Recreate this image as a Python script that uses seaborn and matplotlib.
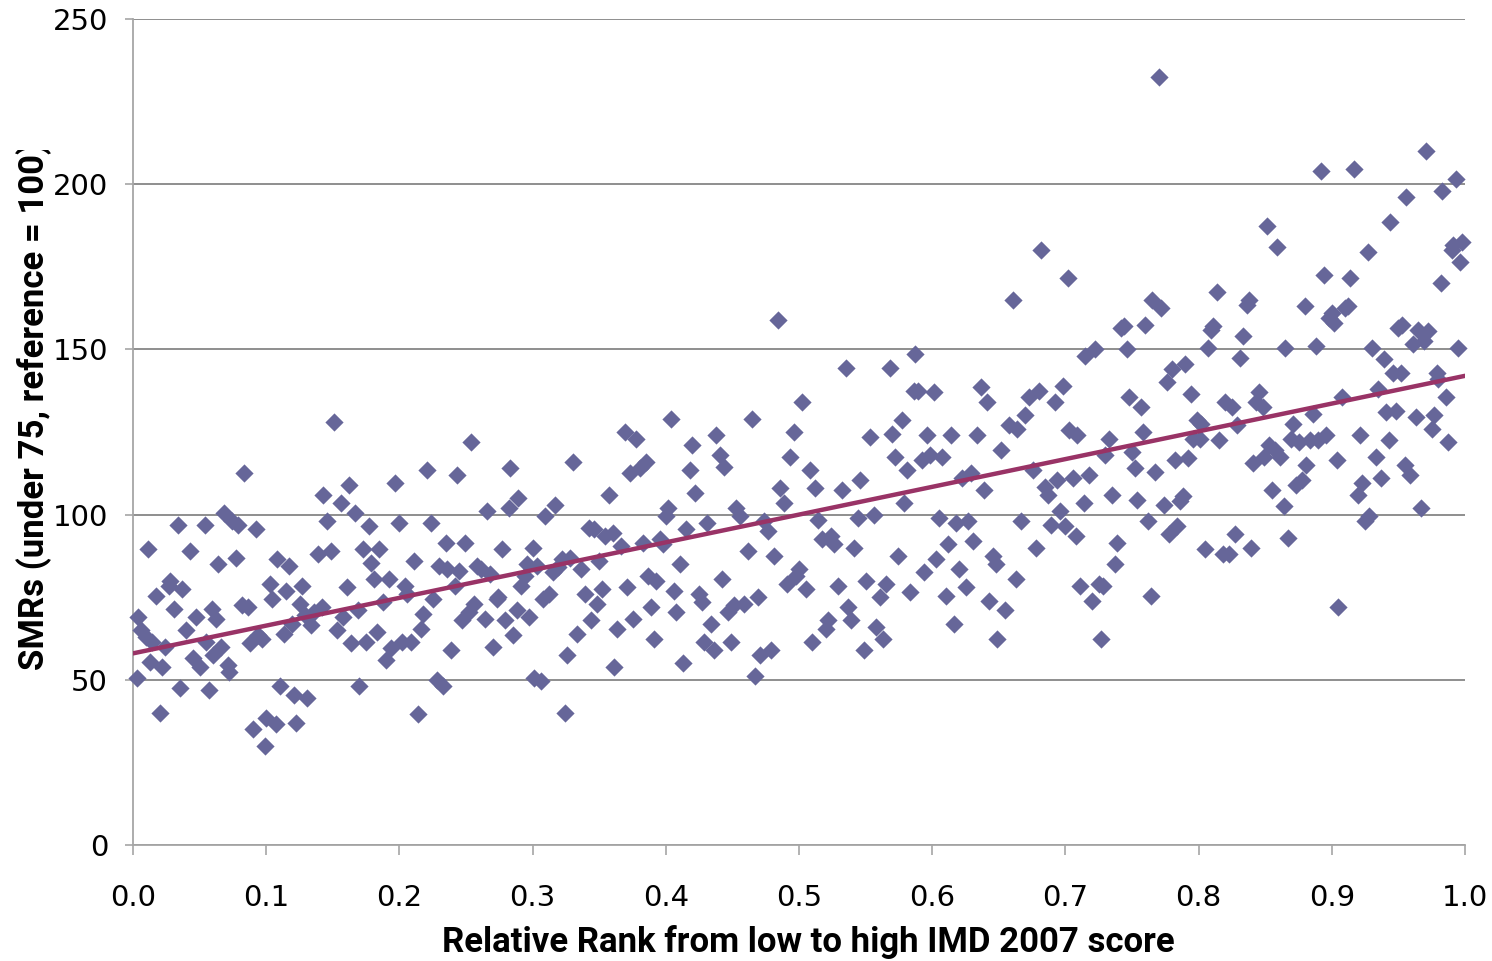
import matplotlib
matplotlib.use("Agg")
import matplotlib.pyplot as plt
from matplotlib.transforms import Bbox, TransformedBbox
import seaborn as sns
import pandas as pd

# ---------------- data ----------------
rank = [
    0.003, 0.004, 0.006, 0.010, 0.011, 0.013, 0.014, 0.017, 0.020, 0.022, 0.024, 0.027, 0.028, 0.031, 0.034, 0.035, 0.037, 0.040, 0.043, 0.045, 0.047, 0.050,
    0.054, 0.055, 0.057, 0.059, 0.060, 0.062, 0.064, 0.066, 0.068, 0.071, 0.072, 0.074, 0.077, 0.079, 0.082, 0.083, 0.086, 0.088, 0.090, 0.092, 0.094, 0.097, 0.099,
    0.100, 0.103, 0.104, 0.107, 0.108, 0.110, 0.113, 0.115, 0.117, 0.119, 0.121, 0.122, 0.125, 0.127, 0.129, 0.131, 0.134, 0.136, 0.139, 0.142, 0.143, 0.146, 0.149,
    0.151, 0.153, 0.156, 0.158, 0.161, 0.162, 0.164, 0.167, 0.169, 0.170, 0.173, 0.175, 0.177, 0.179, 0.181, 0.183, 0.185, 0.188, 0.190, 0.192, 0.194, 0.197, 0.200,
    0.202, 0.204, 0.206, 0.209, 0.211, 0.214, 0.216, 0.218, 0.221, 0.224, 0.225, 0.228, 0.230, 0.233, 0.235, 0.236, 0.239, 0.242, 0.243, 0.245, 0.247, 0.249,
    0.252, 0.254, 0.256, 0.258, 0.261, 0.264, 0.266, 0.268, 0.270, 0.273, 0.274, 0.277, 0.279, 0.282, 0.283, 0.285, 0.288, 0.289, 0.291, 0.294, 0.296, 0.297, 0.300,
    0.301, 0.303, 0.306, 0.308, 0.309, 0.312, 0.315, 0.317, 0.319, 0.322, 0.324, 0.326, 0.328, 0.330, 0.333, 0.336, 0.339, 0.342, 0.344, 0.346, 0.348, 0.350,
    0.352, 0.354, 0.357, 0.360, 0.361, 0.363, 0.366, 0.369, 0.371, 0.373, 0.375, 0.378, 0.381, 0.383, 0.385, 0.387, 0.389, 0.391, 0.393, 0.396, 0.398, 0.400,
    0.402, 0.404, 0.406, 0.408, 0.411, 0.413, 0.415, 0.418, 0.420, 0.422, 0.425, 0.427, 0.429, 0.431, 0.434, 0.436, 0.438, 0.441, 0.442, 0.444, 0.447, 0.449,
    0.451, 0.453, 0.456, 0.459, 0.462, 0.465, 0.467, 0.469, 0.471, 0.474, 0.477, 0.479, 0.481, 0.484, 0.486, 0.489, 0.491, 0.493, 0.496, 0.498, 0.500,
    0.502, 0.505, 0.508, 0.510, 0.512, 0.514, 0.517, 0.520, 0.522, 0.524, 0.526, 0.529, 0.532, 0.535, 0.537, 0.539, 0.541, 0.544, 0.546, 0.549, 0.550,
    0.553, 0.556, 0.558, 0.561, 0.563, 0.565, 0.568, 0.570, 0.572, 0.574, 0.577, 0.579, 0.581, 0.583, 0.586, 0.587, 0.589, 0.592, 0.594, 0.596, 0.598,
    0.601, 0.603, 0.605, 0.607, 0.610, 0.612, 0.614, 0.616, 0.618, 0.620, 0.622, 0.625, 0.627, 0.629, 0.631, 0.634, 0.637, 0.639, 0.641, 0.643, 0.646, 0.648, 0.649,
    0.652, 0.655, 0.658, 0.661, 0.663, 0.664, 0.667, 0.670, 0.673, 0.676, 0.678, 0.680, 0.682, 0.685, 0.687, 0.689, 0.692, 0.694, 0.696, 0.698, 0.700,
    0.702, 0.703, 0.706, 0.708, 0.709, 0.711, 0.714, 0.715, 0.718, 0.720, 0.722, 0.725, 0.727, 0.728, 0.730, 0.733, 0.735, 0.737, 0.739, 0.742, 0.744, 0.746, 0.748,
    0.750, 0.752, 0.754, 0.757, 0.758, 0.760, 0.762, 0.764, 0.765, 0.767, 0.770, 0.772, 0.774, 0.776, 0.778, 0.780, 0.782, 0.784, 0.786, 0.788, 0.790, 0.792, 0.794, 0.796, 0.799,
    0.801, 0.802, 0.805, 0.807, 0.809, 0.811, 0.814, 0.815, 0.818, 0.820, 0.823, 0.825, 0.827, 0.829, 0.831, 0.833, 0.836, 0.838, 0.839, 0.841, 0.843, 0.845, 0.848, 0.849,
    0.851, 0.853, 0.855, 0.857, 0.859, 0.861, 0.864, 0.865, 0.867, 0.869, 0.871, 0.873, 0.875, 0.878, 0.880, 0.881, 0.884, 0.886, 0.888, 0.890, 0.892, 0.894, 0.896, 0.898,
    0.900, 0.902, 0.904, 0.905, 0.908, 0.910, 0.912, 0.914, 0.917, 0.920, 0.921, 0.923, 0.925, 0.927, 0.928, 0.930, 0.933, 0.935, 0.937, 0.939, 0.941, 0.943, 0.944, 0.946, 0.948,
    0.950, 0.952, 0.953, 0.955, 0.956, 0.959, 0.961, 0.963, 0.965, 0.967, 0.969, 0.971, 0.972, 0.975, 0.977, 0.979, 0.980, 0.982, 0.983, 0.986, 0.987, 0.990, 0.991, 0.993, 0.995, 0.996, 0.998,
]
smr = [
    50.5, 69, 65, 63, 89.5, 55.5, 61.5, 75.5, 40, 54, 60, 78.5, 80, 71.5, 97, 47.5, 77.5, 65, 89, 56.5, 69, 54,
    97, 61.5, 47, 71.5, 57.5, 68.5, 85, 60, 100.5, 54.5, 52.5, 98, 87, 97, 72.5, 112.5, 72, 61, 35, 95.5, 63.5, 62.5, 30,
    38.5, 79, 74.5, 36.5, 86.5, 48, 64, 77, 84.5, 67, 45.5, 37, 73, 78.5, 69.5, 44.5, 66.5, 70.5, 88, 72, 106, 98, 89,
    128, 65, 103.5, 69, 78, 109, 61, 100.5, 71, 48, 89.5, 61.5, 96.5, 85.5, 80.5, 64.5, 89.5, 73.5, 56, 80.5, 59.5, 109.5, 97.5,
    61.5, 78.5, 76, 61.5, 86, 39.5, 65.5, 70, 113.5, 97.5, 74.5, 50, 84.5, 48, 91.5, 83.5, 59, 78.5, 112, 83, 68, 91.5,
    70.5, 122, 73, 84.5, 83.5, 68.5, 101, 82, 60, 74.5, 75, 89.5, 68, 102, 114, 63.5, 71, 105, 78.5, 81.5, 85, 69, 90,
    50.5, 84.5, 49.5, 74.5, 99.5, 76, 82.5, 103, 84, 86.5, 40, 57.5, 87, 116, 64, 83.5, 76, 96, 68, 95.5, 73, 86,
    77.5, 93.5, 106, 94.5, 54, 65.5, 90.5, 125, 78, 112.5, 68.5, 123, 114, 91.5, 116, 81.5, 72, 62.5, 80, 92.5, 91, 99.5,
    102, 129, 77, 70.5, 85, 55, 95.5, 113.5, 121, 106.5, 76, 73.5, 61.5, 97.5, 67, 59, 124, 118, 80.5, 114.5, 70.5, 61.5,
    72.5, 102, 99.5, 73, 89, 129, 51, 75, 57.5, 98, 95, 59, 87.5, 159, 108, 103.5, 79, 117.5, 125, 81.5, 83.5,
    134, 77.5, 113.5, 61.5, 108, 98.5, 92.5, 65.5, 68, 93.5, 91, 78.5, 107.5, 144.5, 72, 68, 90, 99, 110.5, 59, 80,
    123.5, 100, 66, 75, 62.5, 79, 144.5, 124.5, 117.5, 87.5, 128.5, 103.5, 113.5, 76.5, 137.5, 148.5, 137.5, 116.5, 82.5, 124, 118,
    137, 86.5, 99, 117.5, 75.5, 91, 124, 67, 97.5, 83.5, 111, 78, 98, 112.5, 92, 124, 138.5, 107.5, 134, 74, 87.5, 85, 62.5,
    119.5, 71, 127, 165, 80.5, 126, 98, 130, 135.5, 113.5, 90, 137.5, 180, 108.5, 106, 97, 134, 110.5, 101, 139, 96.5,
    171.5, 125.5, 111, 93.5, 124, 78.5, 103.5, 148, 112, 74, 150, 79, 62.5, 78.5, 118, 123, 106, 85, 91.5, 156.5, 157, 150, 135.5,
    119, 114, 104.5, 132.5, 125, 157.5, 98, 75.5, 165, 113, 232.5, 162.5, 103, 140, 94, 144, 116.5, 96.5, 104, 105.5, 145.5, 117, 136.5, 123, 128.5,
    123, 127.5, 89.5, 150.5, 156, 157, 167.5, 122.5, 88, 134, 88, 132.5, 94, 127, 147.5, 154, 163.5, 165, 90, 115.5, 134, 137, 132.5, 117.5,
    187.5, 121, 107.5, 119.5, 181, 117.5, 102.5, 150.5, 93, 123, 127.5, 109, 122, 110.5, 163, 115, 122.5, 130.5, 151, 122.5, 204, 172.5, 124, 159.5,
    161, 158, 116.5, 72, 135.5, 162.5, 163, 171.5, 204.5, 106, 124, 109.5, 98, 179.5, 99.5, 150.5, 117.5, 138, 111, 147, 131, 122.5, 188.5, 143, 131.5,
    156.5, 143, 157.5, 115, 196, 112, 151.5, 129.5, 156, 102, 152.5, 210, 155.5, 126, 130, 143, 141, 170, 198, 135.5, 122, 180, 181.5, 201.5, 150.5, 176.5, 182.5,
]
trend_rank = [0.0, 1.0]
trend_smr = [58.0, 142.0]

x_ticks = [0.0, 0.1, 0.2, 0.3, 0.4, 0.5, 0.6, 0.7, 0.8, 0.9, 1.0]
y_ticks = [0, 50, 100, 150, 200, 250]
x_label = "Relative Rank from low to high IMD 2007 score"
y_label = "SMRs (under 75, reference = 100)"

# ---------------- styling ----------------
sns.set_theme(style="white")
plt.rcParams["font.family"] = ["DejaVu Sans"]

W, H, DPI = 1492, 961, 100
fig = plt.figure(figsize=(W / DPI, H / DPI), dpi=DPI)
ax = fig.add_axes([133 / W, (H - 845) / H, (1465 - 133) / W, (845 - 19) / H])

df = pd.DataFrame({"rank": rank, "smr": smr})
sns.scatterplot(data=df, x="rank", y="smr", marker="D", s=86, color="#666699",
                linewidth=0, ax=ax, zorder=3, clip_on=False)
trend = pd.DataFrame({"rank": trend_rank, "smr": trend_smr})
sns.lineplot(data=trend, x="rank", y="smr", color="#993366", linewidth=3.2,
             ax=ax, zorder=4)

ax.set_xlim(0, 1)
ax.set_ylim(0, 250)
ax.set_xticks(x_ticks)
ax.set_xticklabels([f"{v:.1f}" for v in x_ticks])
ax.set_yticks(y_ticks)
ax.set_yticklabels([str(v) for v in y_ticks])

ax.grid(axis="y", color="#868686", linewidth=1.3)
ax.grid(axis="x", visible=False)
ax.set_axisbelow(True)
for side in ("top", "right"):
    ax.spines[side].set_visible(False)
ax.spines["left"].set_color("#A6A6A6")
ax.spines["left"].set_linewidth(1.3)
ax.spines["bottom"].set_color("#A6A6A6")
ax.spines["bottom"].set_linewidth(1.3)

ax.tick_params(axis="x", direction="out", length=7, width=1.2, color="#A6A6A6",
               pad=21, labelsize=21, labelcolor="black", bottom=True)
ax.tick_params(axis="y", direction="out", length=6, width=1.2, color="#A6A6A6",
               pad=12, labelsize=21, labelcolor="black", left=True)

label_font = ["Roboto", "DejaVu Sans"]
ax.set_xlabel(x_label, fontsize=25, fontweight="bold", family=label_font, color="black")
ax.xaxis.set_label_coords((808 - 133) / (1465 - 133), -(942 - 845) / (845 - 19), transform=ax.transAxes)
ax.xaxis.label.set_va("center")

ylab = ax.set_ylabel(y_label, fontsize=25, fontweight="bold", family=label_font, color="black")
ax.yaxis.set_label_coords(-(133 - 34) / (1465 - 133), (845 - 406) / (845 - 19), transform=ax.transAxes)
ylab.set_va("center")
ylab.set_clip_on(True)
ylab.set_clip_box(TransformedBbox(Bbox([[0, 0], [1, (H - 150) / H]]), fig.transFigure))

fig.savefig("out.png", dpi=DPI)
